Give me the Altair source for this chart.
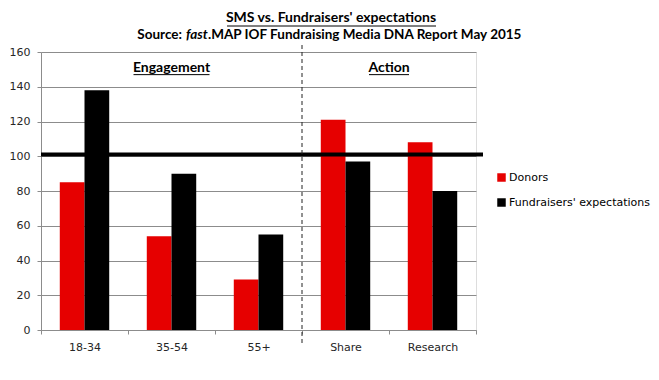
import altair as alt
import pandas as pd

categories = ["18-34", "35-54", "55+", "Share", "Research"]
donors = [85, 54, 29, 121, 108]
fundraisers = [138, 90, 55, 97, 80]
series_names = ["Donors", "Fundraisers' expectations"]
colors = ["#e60000", "#000000"]
benchmark = [101]
y_ticks = [0, 20, 40, 60, 80, 100, 120, 140, 160]
title_line1 = "SMS vs. Fundraisers' expectations"
title_parts = ["Source:", "fast", ".MAP IOF Fundraising Media DNA Report May 2015"]
sections = ["Engagement", "Action"]

rows = []
for c, d, f in zip(categories, donors, fundraisers):
    rows.append({"category": c, "series": series_names[0], "value": d})
    rows.append({"category": c, "series": series_names[1], "value": f})
df = pd.DataFrame(rows)

W, H = 435, 278
GRAY = "#8c8c8c"
AXFONT = "DejaVu Sans"
TFONT = "Lato"

xscale = alt.Scale(domain=categories, paddingInner=0, paddingOuter=0)
yscale = alt.Scale(domain=[0, 160], nice=False)

x_axis = alt.Axis(title=None, tickBand="extent", labelAngle=0, domainColor=GRAY,
                  tickColor=GRAY, tickSize=4, labelFont=AXFONT, labelFontSize=11,
                  labelColor="#262626", labelPadding=7, grid=False)
y_axis = alt.Axis(values=y_ticks, title=None, grid=True, gridColor=GRAY, gridWidth=1,
                  domainColor=GRAY, tickColor=GRAY, tickSize=4, labelFont=AXFONT,
                  labelFontSize=11, labelColor="#262626", labelPadding=7, labelOverlap=False)

bars = alt.Chart(df).mark_bar().encode(
    x=alt.X("category:N", scale=xscale, sort=categories, axis=x_axis),
    xOffset=alt.XOffset("series:N", sort=series_names,
                        scale=alt.Scale(domain=series_names, paddingOuter=0.76, paddingInner=0)),
    y=alt.Y("value:Q", scale=yscale, axis=y_axis),
    color=alt.Color("series:N", sort=series_names,
                    scale=alt.Scale(domain=series_names, range=colors),
                    legend=alt.Legend(title=None, orient="none", legendX=455, legendY=120,
                                      symbolType="square", symbolSize=72, symbolStrokeWidth=0,
                                      labelFont=AXFONT, labelFontSize=11, labelColor="#000000",
                                      rowPadding=13, padding=0, labelOffset=2)),
)

bench = alt.Chart(pd.DataFrame({"v": benchmark})).mark_rule(color="black", strokeWidth=4).encode(
    y=alt.Y("v:Q", scale=yscale, axis=y_axis), x=alt.value(0), x2=alt.value(W + 7)
)

divider = alt.Chart(pd.DataFrame({"c": ["Share"]})).mark_rule(
    color="#222222", strokeWidth=1, strokeDash=[4, 3]
).encode(
    x=alt.X("c:N", scale=xscale, bandPosition=0, axis=x_axis),
    y=alt.value(-7), y2=alt.value(H + 13)
)

sec1 = pd.DataFrame({"t": [sections[0]], "c": ["35-54"], "y": [151]})
sec2 = pd.DataFrame({"t": [sections[1]], "c": ["Research"], "y": [151]})

sec1_text = alt.Chart(sec1).mark_text(font=TFONT, fontWeight="bold", fontSize=14, baseline="middle", color="#000").encode(
    x=alt.X("c:N", scale=xscale, axis=x_axis), y=alt.Y("y:Q", scale=yscale, axis=y_axis), text="t:N")
sec1_line = alt.Chart(sec1).mark_rule(color="#000", strokeWidth=1, xOffset=-38, x2Offset=38, yOffset=7).encode(
    x=alt.X("c:N", scale=xscale, axis=x_axis), x2="c:N", y=alt.Y("y:Q", scale=yscale, axis=y_axis))
sec2_text = alt.Chart(sec2).mark_text(font=TFONT, fontWeight="bold", fontSize=14, baseline="middle", color="#000").encode(
    x=alt.X("c:N", scale=xscale, bandPosition=0, axis=x_axis), y=alt.Y("y:Q", scale=yscale, axis=y_axis), text="t:N")
sec2_line = alt.Chart(sec2).mark_rule(color="#000", strokeWidth=1, xOffset=-20, x2Offset=20, yOffset=7).encode(
    x=alt.X("c:N", scale=xscale, bandPosition=0, axis=x_axis), x2=alt.X2("c:N", bandPosition=0),
    y=alt.Y("y:Q", scale=yscale, axis=y_axis))

t1 = alt.Chart(pd.DataFrame({"t": [title_line1]})).mark_text(
    font=TFONT, fontWeight="bold", fontSize=14, baseline="middle", align="center", color="#000"
).encode(text="t:N", x=alt.value(290), y=alt.value(-34))
t1_line = alt.Chart(pd.DataFrame({"t": [title_line1]})).mark_rule(color="#000", strokeWidth=1).encode(
    x=alt.value(186), x2=alt.value(395), y=alt.value(-26))

tp = pd.DataFrame({"t": title_parts})
t2a = alt.Chart(tp.iloc[[0]]).mark_text(
    font=TFONT, fontWeight="bold", fontSize=13.5, baseline="middle", align="right", color="#000"
).encode(text="t:N", x=alt.value(141), y=alt.value(-17))
t2b = alt.Chart(tp.iloc[[1]]).mark_text(
    font=TFONT, fontWeight="bold", fontStyle="italic", fontSize=13.5, baseline="middle", align="left", color="#000"
).encode(text="t:N", x=alt.value(145), y=alt.value(-17))
t2c = alt.Chart(tp.iloc[[2]]).mark_text(
    font=TFONT, fontWeight="bold", fontSize=13.5, baseline="middle", align="left", color="#000"
).encode(text="t:N", x=alt.value(167), y=alt.value(-17))

chart = alt.layer(
    bars, bench, divider, sec1_text, sec1_line, sec2_text, sec2_line, t1, t1_line, t2a, t2b, t2c
).properties(
    width=W, height=H,
    padding={"left": 33, "top": 44, "right": 175, "bottom": 40},
    autosize=alt.AutoSizeParams(type="none"),
).configure_view(stroke=None).configure(background="white")

chart.save("out.html", embed_options={"renderer": "svg", "actions": False})
